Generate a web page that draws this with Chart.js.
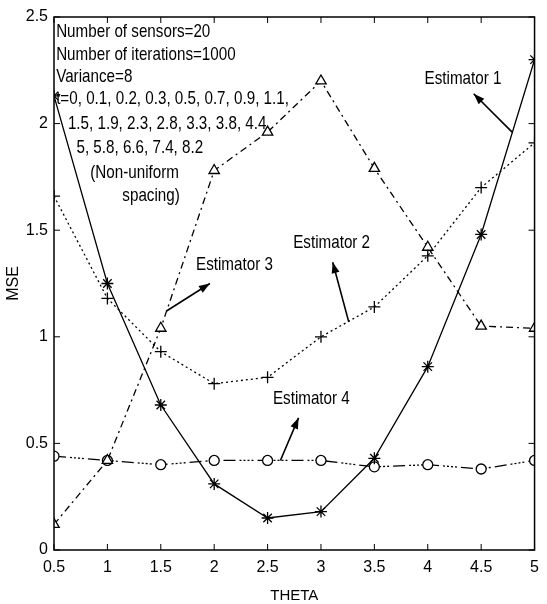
<!DOCTYPE html>
<html>
<head>
<meta charset="utf-8">
<script src="https://cdn.jsdelivr.net/npm/chart.js@4.4.1/dist/chart.umd.min.js"></script>
<style>
  html, body { margin: 0; padding: 0; background: #fff; }
  #wrap { width: 547px; height: 604px; }
</style>
</head>
<body>
<div id="wrap"><canvas id="myChart" width="547" height="604"></canvas></div>
<script>
const theta = [0.5, 1, 1.5, 2, 2.5, 3, 3.5, 4, 4.5, 5];
const estimator1 = [2.13, 1.25, 0.68, 0.31, 0.15, 0.18, 0.43, 0.86, 1.48, 2.30];
const estimator2 = [1.66, 1.18, 0.93, 0.78, 0.81, 1.00, 1.14, 1.38, 1.70, 1.91];
const estimator3 = [0.12, 0.42, 1.04, 1.78, 1.96, 2.20, 1.79, 1.42, 1.05, 1.04];
const estimator4 = [0.44, 0.42, 0.40, 0.42, 0.42, 0.42, 0.39, 0.40, 0.38, 0.42];
const xTicks = [0.5, 1, 1.5, 2, 2.5, 3, 3.5, 4, 4.5, 5];
const yTicks = [0, 0.5, 1, 1.5, 2, 2.5];

const infoLines = [
    ['Number of sensors=20', 0.52, 2.43],
    ['Number of iterations=1000', 0.52, 2.325],
    ['Variance=8', 0.52, 2.22],
    ['t=0, 0.1, 0.2, 0.3, 0.5, 0.7, 0.9, 1.1,', 0.52, 2.115],
    ['1.5, 1.9, 2.3, 2.8, 3.3, 3.8, 4.4', 0.63, 2.0],
    ['5, 5.8, 6.6, 7.4, 8.2', 0.71, 1.885],
    ['(Non-uniform', 0.84, 1.77],
    ['spacing)', 1.14, 1.66]
];

// label text, text x/y, arrow tail x/y, arrow head x/y (data units)
const callouts = [
    ['Estimator 1', 3.97, 2.21, 4.79, 1.96, 4.43, 2.14],
    ['Estimator 2', 2.74, 1.44, 3.26, 1.07, 3.11, 1.35],
    ['Estimator 3', 1.83, 1.34, 1.55, 1.12, 1.96, 1.25],
    ['Estimator 4', 2.55, 0.71, 2.62, 0.42, 2.79, 0.62]
];

const FONT = '"Liberation Sans", Arial, sans-serif';

function mkSet(label, data, dash, style, radius) {
    return {
        label: label,
        data: data.map((v, i) => ({x: theta[i], y: v})),
        borderColor: '#000',
        backgroundColor: '#fff',
        borderWidth: 1.3,
        borderDash: dash,
        pointStyle: style,
        pointRadius: radius,
        pointBorderColor: '#000',
        pointBackgroundColor: '#fff',
        pointBorderWidth: 1.3,
        tension: 0,
        fill: false
    };
}

// narrow text like the scanned figure
function narrowText(ctx, txt, x, y) {
    ctx.save();
    ctx.translate(x, y);
    ctx.scale(0.8, 1);
    ctx.fillText(txt, 0, 0);
    ctx.restore();
}

const frameAndText = {
    id: 'frameAndText',
    afterDatasetsDraw(chart) {
        const ctx = chart.ctx;
        const xs = chart.scales.x, ys = chart.scales.y;
        const a = chart.chartArea;
        ctx.save();
        ctx.strokeStyle = '#000';
        ctx.lineWidth = 1.5;
        ctx.setLineDash([]);
        ctx.strokeRect(a.left, a.top, a.right - a.left, a.bottom - a.top);
        ctx.lineWidth = 1;
        const tl = 6;
        xTicks.forEach(v => {
            const p = xs.getPixelForValue(v);
            ctx.beginPath();
            ctx.moveTo(p, a.bottom); ctx.lineTo(p, a.bottom - tl);
            ctx.moveTo(p, a.top); ctx.lineTo(p, a.top + tl);
            ctx.stroke();
        });
        yTicks.forEach(v => {
            const p = ys.getPixelForValue(v);
            ctx.beginPath();
            ctx.moveTo(a.left, p); ctx.lineTo(a.left + tl, p);
            ctx.moveTo(a.right, p); ctx.lineTo(a.right - tl, p);
            ctx.stroke();
        });

        ctx.fillStyle = '#000';
        ctx.font = '19px ' + FONT;
        ctx.textBaseline = 'middle';
        ctx.textAlign = 'left';
        infoLines.forEach(l => {
            narrowText(ctx, l[0], xs.getPixelForValue(l[1]), ys.getPixelForValue(l[2]));
        });

        callouts.forEach(c => {
            narrowText(ctx, c[0], xs.getPixelForValue(c[1]), ys.getPixelForValue(c[2]));
            const x0 = xs.getPixelForValue(c[3]), y0 = ys.getPixelForValue(c[4]);
            const x1 = xs.getPixelForValue(c[5]), y1 = ys.getPixelForValue(c[6]);
            const ang = Math.atan2(y1 - y0, x1 - x0);
            ctx.lineWidth = 1.6;
            ctx.beginPath();
            ctx.moveTo(x0, y0); ctx.lineTo(x1, y1);
            ctx.stroke();
            const hl = 11, hw = 4;
            ctx.beginPath();
            ctx.moveTo(x1, y1);
            ctx.lineTo(x1 - hl * Math.cos(ang) + hw * Math.sin(ang), y1 - hl * Math.sin(ang) - hw * Math.cos(ang));
            ctx.lineTo(x1 - hl * Math.cos(ang) - hw * Math.sin(ang), y1 - hl * Math.sin(ang) + hw * Math.cos(ang));
            ctx.closePath();
            ctx.fill();
        });
        ctx.restore();
    }
};

const config = {
    type: 'line',
    data: {
        datasets: [
            mkSet('Estimator 1', estimator1, [], 'star', 6),
            mkSet('Estimator 2', estimator2, [2, 3], 'cross', 6),
            mkSet('Estimator 3', estimator3, [7, 4, 2, 4], 'triangle', 6),
            mkSet('Estimator 4', estimator4, [12, 4, 2, 2, 2, 2, 2, 2, 2, 4], 'circle', 5)
        ]
    },
    options: {
        responsive: false,
        animation: false,
        layout: { padding: { top: 17, right: 4, left: 0, bottom: 0 } },
        plugins: {
            legend: { display: false },
            tooltip: { enabled: false }
        },
        scales: {
            x: {
                type: 'linear',
                min: 0.5,
                max: 5,
                afterFit(s) { s.height = 54; },
                afterBuildTicks(s) { s.ticks = xTicks.map(v => ({value: v})); },
                grid: { display: false, drawTicks: false },
                border: { display: false },
                ticks: {
                    color: '#000',
                    padding: 8,
                    font: { family: FONT, size: 16 },
                    maxRotation: 0,
                    callback: v => String(v)
                },
                title: {
                    display: true,
                    text: 'THETA',
                    color: '#000',
                    font: { family: FONT, size: 15, lineHeight: 1 },
                    padding: { top: 0, bottom: 1 }
                }
            },
            y: {
                type: 'linear',
                min: 0,
                max: 2.5,
                afterFit(s) { s.width = 54; },
                afterBuildTicks(s) { s.ticks = yTicks.map(v => ({value: v})); },
                grid: { display: false, drawTicks: false },
                border: { display: false },
                ticks: {
                    color: '#000',
                    padding: 6,
                    font: { family: FONT, size: 16 },
                    callback: v => String(v)
                },
                title: {
                    display: true,
                    text: 'MSE',
                    color: '#000',
                    font: { family: FONT, size: 16, lineHeight: 1 },
                    padding: { top: 6, bottom: 0 }
                }
            }
        }
    },
    plugins: [frameAndText]
};

const visibleChart = new Chart(document.getElementById('myChart'), config);
</script>
</body>
</html>
